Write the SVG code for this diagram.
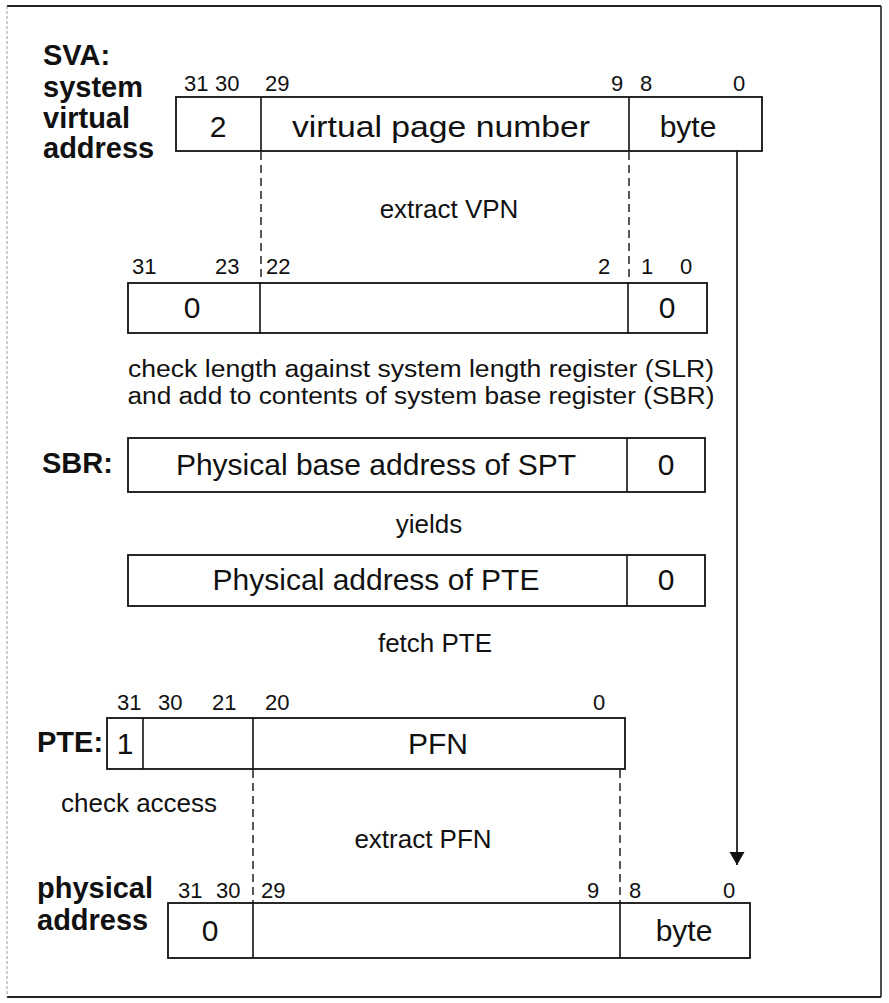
<svg xmlns="http://www.w3.org/2000/svg" width="889" height="1003" viewBox="0 0 889 1003">
<defs>
<style>
.t{font-family:"Liberation Sans",Arial,sans-serif;font-size:26px;fill:#111}
.t2{font-family:"Liberation Sans",Arial,sans-serif;font-size:23px;fill:#111}
.n{font-family:"Liberation Sans",Arial,sans-serif;font-size:22px;fill:#111}
.m{font-family:"Liberation Sans",Arial,sans-serif;font-size:30px;fill:#111}
.b{font-family:"Liberation Sans",Arial,sans-serif;font-size:29px;font-weight:bold;fill:#111}
.box{fill:#fff;stroke:#111;stroke-width:1.8}
.div{stroke:#111;stroke-width:1.6}
.dash{stroke:#111;stroke-width:1.4;stroke-dasharray:8 5;fill:none}
</style>
<marker id="ah" markerWidth="14" markerHeight="16" refX="13" refY="7.5" orient="auto" markerUnits="userSpaceOnUse">
<path d="M0,0 L13,7.5 L0,15 Z" fill="#111"/>
</marker>
</defs>
<rect x="0" y="0" width="889" height="1003" fill="#fff"/>
<g id="frame">
<line x1="7" y1="6" x2="881" y2="6" stroke="#222" stroke-width="1.8"/>
<line x1="881" y1="6" x2="881" y2="997" stroke="#222" stroke-width="1.6"/>
<line x1="7" y1="997" x2="881" y2="997" stroke="#222" stroke-width="1.8"/>
<line x1="7" y1="6" x2="7" y2="997" stroke="#999" stroke-width="1" stroke-dasharray="3 2"/>
</g>
<g id="connectors">
<line class="dash" x1="261" y1="152" x2="261" y2="283"/>
<line class="dash" x1="629" y1="152" x2="629" y2="283"/>
<line class="dash" x1="253" y1="770" x2="253" y2="903"/>
<line class="dash" x1="620" y1="770" x2="620" y2="903"/>
<line x1="737" y1="151" x2="737" y2="865" stroke="#111" stroke-width="1.7" marker-end="url(#ah)"/>
</g>
<g id="sva">
<text class="b" x="43" y="65">SVA:</text>
<text class="b" x="43" y="97">system</text>
<text class="b" x="43" y="128">virtual</text>
<text class="b" x="43" y="158">address</text>
<rect class="box" x="176" y="97" width="586" height="54"/>
<line class="div" x1="261" y1="97" x2="261" y2="151"/>
<line class="div" x1="629" y1="97" x2="629" y2="151"/>
<text class="n" x="184" y="91">31</text>
<text class="n" x="215" y="91">30</text>
<text class="n" x="265" y="91">29</text>
<text class="n" x="611" y="91">9</text>
<text class="n" x="640" y="91">8</text>
<text class="n" x="733" y="91">0</text>
<text class="m" x="218" y="137" text-anchor="middle">2</text>
<text class="m" x="441" y="137" text-anchor="middle" textLength="298" lengthAdjust="spacingAndGlyphs">virtual page number</text>
<text class="m" x="688" y="137" text-anchor="middle">byte</text>
</g>
<text class="t" x="449" y="218" text-anchor="middle">extract VPN</text>
<g id="vpn">
<rect class="box" x="128" y="283" width="579" height="50"/>
<line class="div" x1="260" y1="283" x2="260" y2="333"/>
<line class="div" x1="628" y1="283" x2="628" y2="333"/>
<text class="n" x="132" y="274">31</text>
<text class="n" x="215" y="274">23</text>
<text class="n" x="266" y="274">22</text>
<text class="n" x="598" y="274">2</text>
<text class="n" x="641" y="274">1</text>
<text class="n" x="680" y="274">0</text>
<text class="m" x="192" y="318" text-anchor="middle">0</text>
<text class="m" x="667" y="318" text-anchor="middle">0</text>
</g>
<text class="t2" x="421" y="377" text-anchor="middle" textLength="586" lengthAdjust="spacingAndGlyphs">check length against system length register (SLR)</text>
<text class="t2" x="421" y="404" text-anchor="middle" textLength="587" lengthAdjust="spacingAndGlyphs">and add to contents of system base register (SBR)</text>
<g id="sbr">
<text class="b" x="42" y="473">SBR:</text>
<rect class="box" x="128" y="438" width="577" height="54"/>
<line class="div" x1="627" y1="438" x2="627" y2="492"/>
<text class="m" x="376" y="475" text-anchor="middle">Physical base address of SPT</text>
<text class="m" x="666" y="475" text-anchor="middle">0</text>
</g>
<text class="t" x="429" y="533" text-anchor="middle">yields</text>
<g id="pteaddr">
<rect class="box" x="128" y="555" width="577" height="51"/>
<line class="div" x1="627" y1="555" x2="627" y2="606"/>
<text class="m" x="376" y="590" text-anchor="middle">Physical address of PTE</text>
<text class="m" x="666" y="590" text-anchor="middle">0</text>
</g>
<text class="t" x="435" y="652" text-anchor="middle">fetch PTE</text>
<g id="pte">
<text class="b" x="37" y="752">PTE:</text>
<rect class="box" x="107" y="718" width="518" height="51"/>
<line class="div" x1="143" y1="718" x2="143" y2="769"/>
<line class="div" x1="253" y1="718" x2="253" y2="769"/>
<text class="n" x="117" y="710">31</text>
<text class="n" x="158" y="710">30</text>
<text class="n" x="212" y="710">21</text>
<text class="n" x="265" y="710">20</text>
<text class="n" x="593" y="710">0</text>
<text class="m" x="125" y="754" text-anchor="middle">1</text>
<text class="m" x="438" y="754" text-anchor="middle">PFN</text>
</g>
<text class="t" x="61" y="812">check access</text>
<text class="t" x="423" y="848" text-anchor="middle">extract PFN</text>
<g id="pa">
<text class="b" x="37" y="898">physical</text>
<text class="b" x="37" y="930">address</text>
<rect class="box" x="168" y="903" width="582" height="55"/>
<line class="div" x1="253" y1="903" x2="253" y2="958"/>
<line class="div" x1="620" y1="903" x2="620" y2="958"/>
<text class="n" x="178" y="898">31</text>
<text class="n" x="216" y="898">30</text>
<text class="n" x="261" y="898">29</text>
<text class="n" x="587" y="898">9</text>
<text class="n" x="629" y="898">8</text>
<text class="n" x="723" y="898">0</text>
<text class="m" x="210" y="941" text-anchor="middle">0</text>
<text class="m" x="684" y="941" text-anchor="middle">byte</text>
</g>
</svg>
